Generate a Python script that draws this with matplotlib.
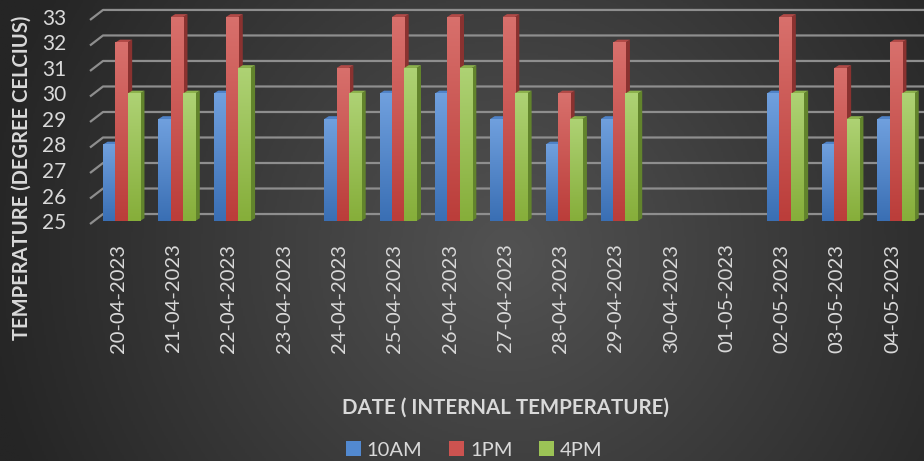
import numpy as np
import matplotlib.pyplot as plt
from matplotlib.patches import Polygon
from matplotlib.colors import LinearSegmentedColormap

plt.rcParams['font.family'] = ['Lato', 'DejaVu Sans']

dates = ['20-04-2023', '21-04-2023', '22-04-2023', '23-04-2023', '24-04-2023',
         '25-04-2023', '26-04-2023', '27-04-2023', '28-04-2023', '29-04-2023',
         '30-04-2023', '01-05-2023', '02-05-2023', '03-05-2023', '04-05-2023']
temp_10am = [28, 29, 30, np.nan, 29, 30, 30, 29, 28, 29, np.nan, np.nan, 30, 28, 29]
temp_1pm = [32, 33, 33, np.nan, 31, 33, 33, 33, 30, 32, np.nan, np.nan, 33, 31, 32]
temp_4pm = [30, 30, 31, np.nan, 30, 31, 31, 30, 29, 30, np.nan, np.nan, 30, 29, 30]
series_names = ['10AM', '1PM', '4PM']
y_ticks = list(range(25, 34))

# front gradient (light top / dark bottom), right side and top faces
front_light = ['#70a0de', '#d8706c', '#aed274']
front_dark = ['#3a6fb4', '#bb3d3a', '#86ae3a']
legend_col = ['#5289d0', '#cc5350', '#9cc356']
side_col = ['#2c5890', '#8a3230', '#62842c']
top_col = ['#5083c8', '#b24a47', '#8cb24c']
text_col = '#d9d9d9'
grid_col = '#8e8e8e'

W, H = 924, 461
fig = plt.figure(figsize=(W / 100, H / 100), dpi=100)

# dark radial background, lighter towards the middle
bg = fig.add_axes([0, 0, 1, 1], zorder=-10)
yy, xx = np.mgrid[0:1:230j, 0:1:460j]
r = np.hypot((xx - 0.55) * 2.0, (yy - 0.45) * 1.0)
shade = np.clip(1 - r / 1.15, 0, 1)
bg_cmap = LinearSegmentedColormap.from_list('bg', ['#252525', '#525252'])
bg.imshow(shade, cmap=bg_cmap, extent=[0, 1, 0, 1], aspect='auto', origin='lower')
bg.axis('off')

# plot area, scaled so one category = 55.3 px and one degree = 25.5 px
x_lo, x_hi = -0.57, 14.51
y_lo, y_hi = 24.55, 33.7
ax = fig.add_axes([90 / W, (H - 232.5) / H, 834 / W, 233.4 / H])
ax.set_xlim(x_lo, x_hi)
ax.set_ylim(y_lo, y_hi)
ax.patch.set_alpha(0)
for sp in ax.spines.values():
    sp.set_visible(False)

ux = (x_hi - x_lo) / 834
uy = (y_hi - y_lo) / 233.4

# gridlines on the back wall with a slanted floor edge on the left
for v in y_ticks:
    ax.plot([x_lo, x_lo + 13 * ux, x_hi], [v - 3 * uy, v + 7 * uy, v + 7 * uy],
            color=grid_col, lw=1.6, zorder=1, clip_on=False, solid_capstyle='butt')

x = np.arange(len(dates))
bw = 12.3 * ux
dx, dy = 4.5 * ux, 2.8 * uy
offsets = [-bw, 0, bw]
grad = np.linspace(0, 1, 64).reshape(-1, 1)

handles = []
for s, vals in enumerate([temp_10am, temp_1pm, temp_4pm]):
    vals = np.array(vals, dtype=float)
    z = 2 + 3 * s
    bars = ax.bar(x + offsets[s], vals - 25, bw, bottom=25, color=legend_col[s],
                  linewidth=0, zorder=z + 1, label=series_names[s])
    handles.append(bars)
    cmap = LinearSegmentedColormap.from_list('f%d' % s, [front_dark[s], front_light[s]])
    for rect, v in zip(bars.patches, vals):
        if np.isnan(v):
            continue
        xl = rect.get_x()
        xr = xl + bw
        ax.add_patch(Polygon([(xr, 25), (xr + dx, 25 + dy), (xr + dx, v + dy), (xr, v)],
                             closed=True, facecolor=side_col[s], lw=0, zorder=z))
        ax.add_patch(Polygon([(xl, v), (xr, v), (xr + dx, v + dy), (xl + dx, v + dy)],
                             closed=True, facecolor=top_col[s], lw=0, zorder=z))
        im = ax.imshow(grad, cmap=cmap, extent=[xl, xr, 25, v], origin='lower',
                       aspect='auto', zorder=z + 2, interpolation='bilinear')
        im.set_clip_path(rect)

ax.set_xlim(x_lo, x_hi)
ax.set_ylim(y_lo, y_hi)

ax.set_xticks(x - 0.06, dates, rotation=90)
ax.set_yticks(y_ticks)
ax.tick_params(axis='x', length=0, pad=8, labelsize=14.5, labelcolor=text_col)
ax.tick_params(axis='y', length=0, pad=17, labelsize=15, labelcolor=text_col)

fig.text(505 / W, 1 - 408 / H, 'DATE ( INTERNAL TEMPERATURE)', ha='center', va='center',
         fontsize=14.8, fontweight='bold', color=text_col)
fig.text(21.5 / W, 1 - 178 / H, 'TEMPERATURE (DEGREE CELCIUS)', ha='center', va='center',
         rotation=90, fontsize=14.5, fontweight='bold', color=text_col)

fig.legend(handles=handles, labels=series_names, loc='center', bbox_to_anchor=(474 / W, 1 - 450 / H),
           ncol=3, frameon=False, fontsize=14.5, labelcolor=text_col, handlelength=0.75,
           handleheight=0.75, handletextpad=0.3, columnspacing=1.3, borderpad=0)

fig.savefig('out.png', dpi=100)
